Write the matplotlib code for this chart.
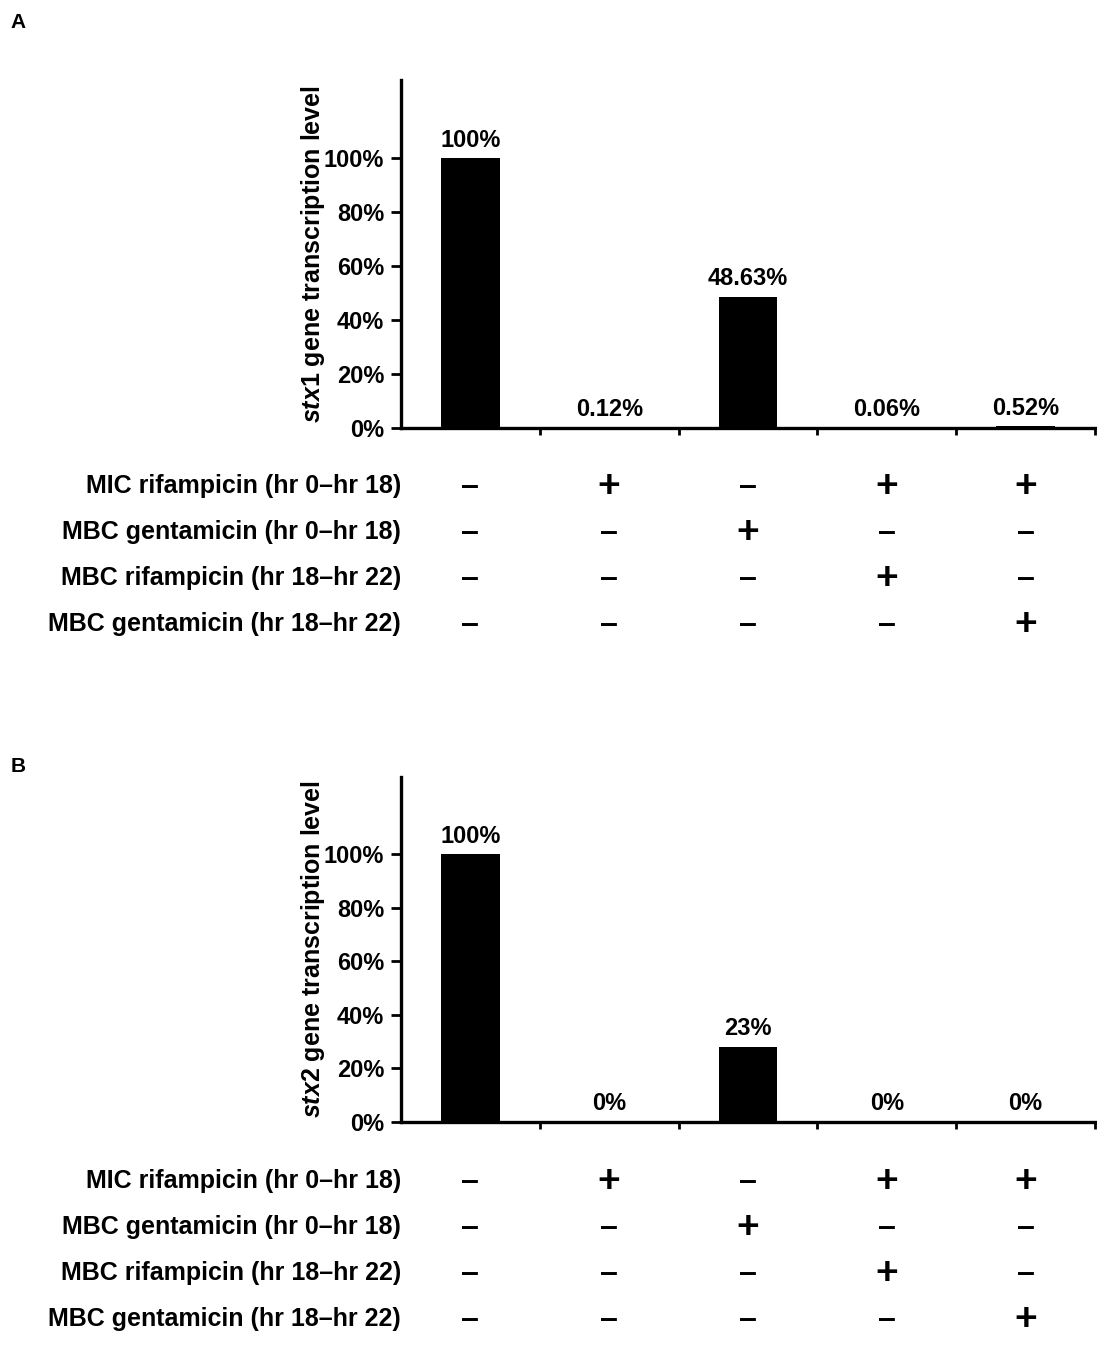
import matplotlib
matplotlib.use('Agg')
import matplotlib.pyplot as plt
from matplotlib.transforms import blended_transform_factory

plt.rcParams['font.family'] = 'Liberation Sans'
plt.rcParams['font.weight'] = 'bold'
plt.rcParams['mathtext.fontset'] = 'custom'
plt.rcParams['mathtext.it'] = 'Liberation Sans:bold:italic'
plt.rcParams['mathtext.rm'] = 'Liberation Sans:bold'

# data
groups = [0, 1, 2, 3, 4]
stx1_values = [100, 0.12, 48.63, 0.06, 0.52]
stx1_labels = ['100%', '0.12%', '48.63%', '0.06%', '0.52%']
stx2_values = [100, 0, 28, 0, 0]          # drawn bar heights
stx2_labels = ['100%', '0%', '23%', '0%', '0%']
yticks = [0, 20, 40, 60, 80, 100]

treatments = ['MIC rifampicin (hr 0\u2013hr 18)',
              'MBC gentamicin (hr 0\u2013hr 18)',
              'MBC rifampicin (hr 18\u2013hr 22)',
              'MBC gentamicin (hr 18\u2013hr 22)']
signs = [['-', '+', '-', '+', '+'],
         ['-', '-', '+', '-', '-'],
         ['-', '-', '-', '+', '-'],
         ['-', '-', '-', '-', '+']]

W, H = 1097, 1353
fig = plt.figure(figsize=(W / 100, H / 100), dpi=100)


def px(x, y):
    return x / W, 1 - y / H


def panel(letter, top, bottom, values, labels, ylabel, row_ys, letter_y):
    l, b = px(401, bottom)
    r, t = px(1095, top)
    ax = fig.add_axes([l, b, r - l, t - b])
    ax.bar(groups, values, width=0.42, color='black')
    ax.set_xlim(-0.5, 4.5)
    ax.set_ylim(0, 129)
    ax.set_yticks(yticks)
    ax.set_yticklabels([f'{v}%' for v in yticks], fontsize=17, fontweight='bold')
    ax.set_xticks([0.5, 1.5, 2.5, 3.5, 4.5])
    ax.set_xticklabels([])
    ax.tick_params(axis='y', length=7, width=2, pad=5)
    ax.tick_params(axis='x', length=5, width=2, direction='out')
    for s in ['top', 'right']:
        ax.spines[s].set_visible(False)
    for s in ['left', 'bottom']:
        ax.spines[s].set_linewidth(2.4)
    ax.set_ylabel(ylabel, fontsize=18, fontweight='bold', labelpad=-2)
    for x, v, lab in zip(groups, values, labels):
        ax.annotate(lab, (x, v), xytext=(0, 13), textcoords='offset points',
                    ha='center', va='center', fontsize=17, fontweight='bold')

    fig.text(*px(18, letter_y), letter, fontsize=15, fontweight='bold',
             ha='center', va='center')

    trans = blended_transform_factory(ax.transData, fig.transFigure)
    for row, (name, ry) in enumerate(zip(treatments, row_ys)):
        fig.text(*px(401, ry), name, fontsize=18, fontweight='bold',
                 ha='right', va='center')
        for x, s in zip(groups, signs[row]):
            if s == '+':
                ax.text(x, 1 - (ry + 1) / H, '+', transform=trans, fontsize=28,
                        fontweight='bold', ha='center', va='center')
            else:
                ax.text(x, 1 - (ry + 1) / H, '\u2013', transform=trans, fontsize=23,
                        fontweight='bold', ha='center', va='center')
    return ax


panel('A', 80, 427.7, stx1_values, stx1_labels,
      r'$\mathit{stx1}$ gene transcription level', [486, 532, 578, 624], 22)
panel('B', 777, 1121.7, stx2_values, stx2_labels,
      r'$\mathit{stx2}$ gene transcription level', [1181, 1227, 1273, 1319], 767)

fig.savefig('out.png', dpi=100)
